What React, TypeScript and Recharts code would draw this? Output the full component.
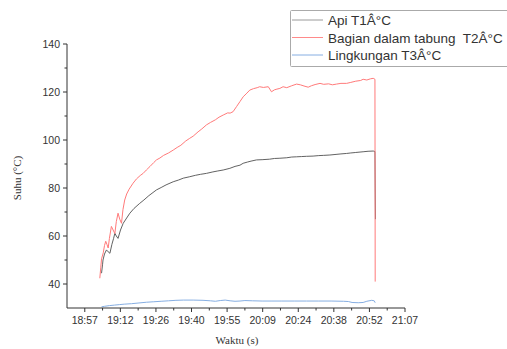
import React from "react";
import { LineChart, Line, XAxis, YAxis } from "recharts";

// Time in minutes since 18:57
const redTime = [6.1, 6.5, 6.8, 7.5, 8.0, 8.5, 9.0, 9.5, 10.0, 10.8, 11.5, 12.2, 12.8, 13.5, 14.2, 14.9, 15.5, 16.2, 17.0, 18.0, 19.6, 21, 22.5, 23.7, 25, 26.5, 28, 29.1, 30.5, 32, 34, 35.9, 37.5, 39, 41, 42.6, 44, 46, 47.5, 49.4, 51, 53, 54.5, 56.2, 58, 59, 60.2, 61.6, 63, 64.3, 65.5, 67, 68.5, 70, 71, 72.5, 74.5, 75.8, 77, 78, 79.2, 80.5, 82, 84, 86, 87.5, 89, 90.7, 92, 93.5, 95.5, 97, 99, 100.5, 102.2, 104, 106.3, 108, 110, 112, 113, 114.5, 116, 117.1, 117.8, 117.9];
const redValues = [42.4, 47, 50.5, 53, 56, 57.8, 56.5, 55, 59, 64, 62.5, 61, 66, 69.5, 67, 65.3, 71, 75, 77.5, 79.5, 82, 83.8, 85.2, 86.1, 87.5, 89, 90.6, 91.7, 92.5, 93.6, 94.6, 95.8, 96.9, 97.8, 99.6, 100.7, 101.6, 103.4, 104.6, 106.3, 107.3, 108.4, 109.5, 110.4, 111.3, 111.2, 111.8, 113.9, 116, 118, 119.2, 120.8, 121.4, 121.8, 122.2, 121.9, 122.2, 120.1, 120.9, 121.2, 121.5, 122.2, 121.8, 122.6, 123.3, 123.0, 122.5, 122.0, 122.6, 123.1, 123.6, 123.2, 123.4, 123.0, 123.3, 123.6, 123.6, 124.0, 124.5, 124.8, 125.3, 125.0, 125.5, 125.7, 125.3, 41];

const blackTime = [6.8, 7.2, 7.4, 8.0, 8.8, 9.5, 10.2, 11, 11.7, 12.2, 12.8, 13.5, 14.5, 15.6, 17, 18.3, 20, 22.3, 24, 26, 29.1, 31, 33, 35.9, 38, 40, 42.6, 45, 47, 49.4, 52, 54, 56.2, 58.9, 61, 63, 64.3, 66, 67.5, 69.7, 72, 75, 77, 79.2, 82, 84, 86, 88, 90, 92.7, 95, 97, 99.5, 102, 104, 106.3, 108, 110, 113, 115, 117.1, 117.8, 117.9, 118.0];
const blackValues = [44.5, 48, 50, 52.5, 54.2, 53.4, 52.8, 56.5, 59, 61.1, 60, 59, 62.5, 65.3, 67.5, 69.5, 71.5, 73.6, 75, 76.8, 79.2, 80.2, 81.3, 82.6, 83.3, 84.1, 84.7, 85.3, 85.7, 86.1, 86.7, 87.1, 87.5, 88.2, 89, 89.5, 90.3, 90.8, 91.2, 91.7, 91.8, 92.0, 92.3, 92.4, 92.6, 92.9, 93.0, 93.1, 93.2, 93.3, 93.5, 93.6, 93.75, 94.0, 94.2, 94.4, 94.6, 94.8, 95.1, 95.3, 95.4, 95.2, 80, 67];

const blueTime = [6.8, 8, 10, 12, 14, 16, 19, 22, 25, 28, 31, 34, 37, 40, 44, 48, 51, 53, 55, 57, 59, 61, 63, 65, 68, 72, 76, 80, 85, 90, 95, 100, 105, 107, 108.5, 111, 113, 114.5, 116.5, 117.5, 117.9];
const blueValues = [30.5, 30.7, 31, 31.2, 31.4, 31.6, 31.8, 32.1, 32.4, 32.6, 32.8, 33.0, 33.2, 33.3, 33.3, 33.2, 33.0, 32.8, 33.1, 33.3, 33.0, 32.8, 32.9, 33.1, 33.0, 32.9, 32.9, 32.9, 32.9, 32.9, 32.9, 32.9, 32.8, 32.7, 32.3, 32.2, 32.3, 32.8, 33.2, 33.0, 32.2];

const xTickValues = [0, 14.44, 28.89, 43.33, 57.78, 72.22, 86.67, 101.11, 115.56, 130];
const xTickLabels = ["18:57", "19:12", "19:26", "19:40", "19:55", "20:09", "20:24", "20:38", "20:52", "21:07"];
const yTickValues = [40, 60, 80, 100, 120, 140];
const yMinorValues = [50, 70, 90, 110, 130];

const seriesNames = ["Api T1Â°C", "Bagian dalam tabung  T2Â°C", "Lingkungan T3Â°C"];
const seriesColors = ["#505050", "#ff7a7a", "#86aee2"];
const legendLineColors = ["#9a9a9a", "#ff8a8a", "#86aee2"];

const toPoints = (t: number[], v: number[]) => t.map((x, i) => ({ t: x, v: v[i] }));
const blackData = toPoints(blackTime, blackValues);
const redData = toPoints(redTime, redValues);
const blueData = toPoints(blueTime, blueValues);

const xMinor = xTickValues.slice(0, -1).map((v, i) => (v + xTickValues[i + 1]) / 2);
const xAllTicks = [...xTickValues, ...xMinor].sort((a, b) => a - b);
const yAllTicks = [...yTickValues, ...yMinorValues].sort((a, b) => a - b);

const AXIS = "#333";
const FONT = "'Liberation Sans', Arial, sans-serif";

const XTick = (props: any) => {
  const { x, y, payload } = props;
  const idx = xTickValues.indexOf(payload.value);
  const major = idx >= 0;
  return (
    <g>
      <line x1={x} x2={x} y1={y} y2={y + (major ? 4 : 2.5)} stroke={AXIS} strokeWidth={1} />
      {major && (
        <text x={x} y={y + 16} textAnchor="middle" fontSize={10.5} fontFamily={FONT} fill="#333">
          {xTickLabels[idx]}
        </text>
      )}
    </g>
  );
};

const YTick = (props: any) => {
  const { x, y, payload } = props;
  const major = yTickValues.includes(payload.value);
  return (
    <g>
      <line x1={x} x2={x - (major ? 4 : 2.5)} y1={y} y2={y} stroke={AXIS} strokeWidth={1} />
      {major && (
        <text x={x - 7} y={y + 3.5} textAnchor="end" fontSize={10.5} fontFamily={FONT} fill="#333">
          {payload.value}
        </text>
      )}
    </g>
  );
};

export default function App() {
  return (
    <div style={{ position: "absolute", left: 0, top: 0, width: 507, height: 349, background: "#fff", overflow: "hidden" }}>
      <LineChart
        width={507}
        height={349}
        margin={{ top: 44, right: 102, bottom: 11, left: 27 }}
      >
        <XAxis
          type="number"
          dataKey="t"
          domain={[-7.22, 130]}
          ticks={xAllTicks}
          allowDataOverflow
          interval={0}
          height={30}
          tickSize={0}
          tickMargin={0}
          tickLine={false}
          axisLine={{ stroke: AXIS, strokeWidth: 1 }}
          tick={<XTick />}
        />
        <YAxis
          type="number"
          dataKey="v"
          domain={[30, 140]}
          ticks={yAllTicks}
          allowDataOverflow
          interval={0}
          width={40}
          tickSize={0}
          tickMargin={0}
          tickLine={false}
          axisLine={{ stroke: AXIS, strokeWidth: 1 }}
          tick={<YTick />}
        />
        <Line data={blueData} dataKey="v" type="linear" stroke={seriesColors[2]} strokeWidth={1} dot={false} isAnimationActive={false} />
        <Line data={blackData} dataKey="v" type="linear" stroke={seriesColors[0]} strokeWidth={0.9} dot={false} isAnimationActive={false} />
        <Line data={redData} dataKey="v" type="linear" stroke={seriesColors[1]} strokeWidth={1} dot={false} isAnimationActive={false} />
      </LineChart>
      <svg width={507} height={349} style={{ position: "absolute", left: 0, top: 0, pointerEvents: "none" }}>
        <text
          x={21}
          y={178}
          transform="rotate(-90 21 178)"
          textAnchor="middle"
          fontSize={11}
          fontFamily="'Liberation Serif', 'Times New Roman', serif"
          fill="#333"
        >
          Suhu (°C)
        </text>
        <text x={237} y={344} textAnchor="middle" fontSize={11} fontFamily="'Liberation Serif', 'Times New Roman', serif" fill="#333">
          Waktu (s)
        </text>
        <rect x={290.5} y={10.5} width={240} height={56} fill="#fff" stroke="#aaa" strokeWidth={1} rx={1} />
        {seriesNames.map((name, i) => {
          const cy = [20, 37.5, 55][i];
          return (
            <g key={name}>
              <line x1={292} x2={323} y1={cy} y2={cy} stroke={legendLineColors[i]} strokeWidth={1} />
              <text x={328} y={cy + 5} fontSize={13.5} fontFamily={FONT} fill="#333" style={{ whiteSpace: "pre" }}>
                {name}
              </text>
            </g>
          );
        })}
      </svg>
    </div>
  );
}
